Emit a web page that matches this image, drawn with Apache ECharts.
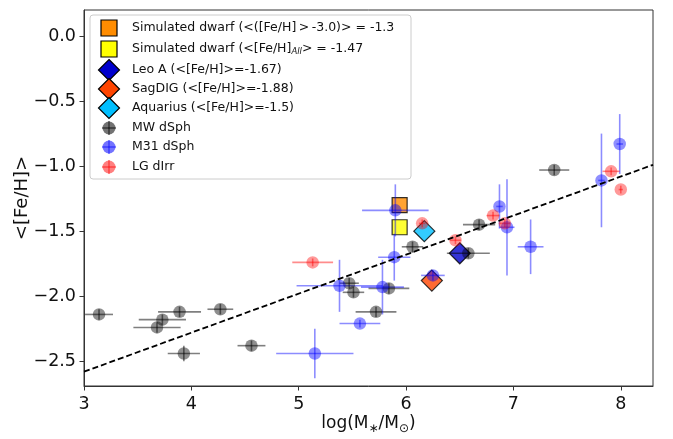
<!DOCTYPE html>
<html>
<head>
<meta charset="utf-8">
<script src="https://cdn.jsdelivr.net/npm/echarts@6/dist/echarts.min.js"></script>
<style>
  html, body { margin: 0; padding: 0; background: #ffffff; }
  #chart { width: 673px; height: 439px; }
</style>
</head>
<body>
<div id="chart"></div>
<script>
// Axis ticks
const xTicks = [3, 4, 5, 6, 7, 8];
const yTicks = [0.0, -0.5, -1.0, -1.5, -2.0, -2.5];

// Milky Way dwarf spheroidals: log stellar mass, mean [Fe/H], errors
const mwX    = [3.14, 3.68, 3.73, 3.89, 3.93, 4.27, 4.56, 5.47, 5.51, 5.72, 5.84, 6.06, 6.58, 6.68, 7.38];
const mwY    = [-2.14, -2.24, -2.18, -2.12, -2.44, -2.10, -2.38, -1.90, -1.97, -2.12, -1.94, -1.62, -1.67, -1.45, -1.03];
const mwXErr = [0.13, 0.22, 0.22, 0.20, 0.15, 0.12, 0.13, 0.09, 0.10, 0.19, 0.19, 0.10, 0.20, 0.15, 0.14];
const mwYErr = [0.04, 0.04, 0.04, 0.04, 0.06, 0.04, 0.04, 0.04, 0.04, 0.04, 0.04, 0.04, 0.04, 0.04, 0.04];

// M31 dwarf spheroidals
const m31X    = [5.15, 5.38, 5.57, 5.78, 5.89, 5.90, 6.25, 6.87, 6.94, 7.16, 7.82, 7.99];
const m31Y    = [-2.44, -1.92, -2.21, -1.93, -1.70, -1.34, -1.84, -1.31, -1.47, -1.62, -1.11, -0.83];
const m31XErr = [0.36, 0.40, 0.19, 0.20, 0.15, 0.31, 0.11, 0.03, 0.07, 0.12, 0.03, 0.03];
const m31YErr = [0.19, 0.20, 0.03, 0.21, 0.18, 0.20, 0.04, 0.17, 0.37, 0.21, 0.36, 0.23];

// Local Group dwarf irregulars
const lgX    = [5.13, 6.15, 6.46, 6.81, 6.92, 7.91, 8.00];
const lgY    = [-1.74, -1.44, -1.57, -1.38, -1.44, -1.04, -1.18];
const lgXErr = [0.19, 0.03, 0.05, 0.06, 0.05, 0.08, 0.02];
const lgYErr = [0.03, 0.03, 0.03, 0.03, 0.03, 0.03, 0.03];

// Individual objects
const simCut  = [5.94, -1.30];
const simAll  = [5.94, -1.47];
const leoA    = [6.50, -1.67];
const sagDIG  = [6.24, -1.88];
const aquarius = [6.17, -1.50];

// Mass-metallicity fit line end points
const fitX = [3.0, 8.3];
const fitY = [-2.58, -0.99];

const FONT = 'DejaVu Sans';
const MW_C  = 'rgba(0,0,0,0.55)';
const M31_C = 'rgba(0,0,255,0.55)';
const LG_C  = 'rgba(255,0,0,0.5)';
const MW_BAR  = 'rgba(0,0,0,0.5)';
const M31_BAR = 'rgba(0,0,255,0.45)';
const LG_BAR  = 'rgba(255,0,0,0.45)';

function errorBars(name, xs, ys, xe, ye, color) {
  return {
    type: 'custom',
    name: name,
    z: 2,
    silent: true,
    encode: { x: 0, y: 1 },
    data: xs.map((x, i) => [x, ys[i], xe[i], ye[i]]),
    renderItem: function (params, api) {
      const x = api.value(0), y = api.value(1), dx = api.value(2), dy = api.value(3);
      const l = api.coord([x - dx, y]), r = api.coord([x + dx, y]);
      const t = api.coord([x, y + dy]), b = api.coord([x, y - dy]);
      return {
        type: 'group',
        children: [
          { type: 'line', shape: { x1: l[0], y1: l[1], x2: r[0], y2: r[1] }, style: { stroke: color, lineWidth: 1.6 } },
          { type: 'line', shape: { x1: t[0], y1: t[1], x2: b[0], y2: b[1] }, style: { stroke: color, lineWidth: 1.6 } }
        ]
      };
    }
  };
}

function points(name, xs, ys, color) {
  return {
    type: 'scatter',
    name: name,
    z: 3,
    symbol: 'circle',
    symbolSize: 12.5,
    itemStyle: { color: color, borderWidth: 0 },
    data: xs.map((x, i) => [x, ys[i]])
  };
}

function marker(name, p, symbol, size, color) {
  return {
    type: 'scatter',
    name: name,
    z: 1,
    symbol: symbol,
    symbolSize: size,
    itemStyle: { color: color, borderColor: '#000', borderWidth: 1.2 },
    data: [p]
  };
}

// Legend, drawn as a framed box of swatches and labels
const legendRows = [28, 49, 70, 89, 108, 128, 147, 167];
const legendMarkX = 109, legendTextX = 132;
const legendChildren = [
  { type: 'rect', shape: { x: 90, y: 15, width: 321, height: 164, r: 3 },
    style: { fill: 'rgba(255,255,255,0.85)', stroke: '#cccccc', lineWidth: 1 } }
];
function sq(cy, color) {
  legendChildren.push({ type: 'rect', shape: { x: legendMarkX - 8, y: cy - 8, width: 16, height: 16 },
    style: { fill: color, stroke: '#000', lineWidth: 1.2 } });
}
function dia(cy, color) {
  const h = 10.5, c = legendMarkX;
  legendChildren.push({ type: 'polygon', shape: { points: [[c, cy - h], [c + h, cy], [c, cy + h], [c - h, cy]] },
    style: { fill: color, stroke: '#000', lineWidth: 1.2 } });
}
function circ(cy, color, bar) {
  const c = legendMarkX;
  legendChildren.push({ type: 'line', shape: { x1: c - 7, y1: cy, x2: c + 7, y2: cy }, style: { stroke: bar, lineWidth: 1.6 } });
  legendChildren.push({ type: 'line', shape: { x1: c, y1: cy - 7, x2: c, y2: cy + 7 }, style: { stroke: bar, lineWidth: 1.6 } });
  legendChildren.push({ type: 'circle', shape: { cx: c, cy: cy, r: 6.5 }, style: { fill: color } });
}
function label(cy, text) {
  legendChildren.push({ type: 'text', x: legendTextX, y: cy,
    style: { text: text, fontFamily: FONT, fontSize: 12.5, fill: '#111', verticalAlign: 'middle', align: 'left',
      rich: { sub: { fontFamily: FONT, fontSize: 8.5, fontStyle: 'italic', fill: '#111', verticalAlign: 'bottom', padding: [6, 0, 0, 0] } } } });
}
sq(legendRows[0], '#ff8c00');  label(legendRows[0], 'Simulated dwarf (<([Fe/H]\u2009>\u2009-3.0)> = -1.3');
sq(legendRows[1], '#ffff00');  label(legendRows[1], 'Simulated dwarf (<[Fe/H]{sub|All}> = -1.47');
dia(legendRows[2], '#0000cd'); label(legendRows[2], 'Leo A (<[Fe/H]>=-1.67)');
dia(legendRows[3], '#ff4500'); label(legendRows[3], 'SagDIG (<[Fe/H]>=-1.88)');
dia(legendRows[4], '#00bfff'); label(legendRows[4], 'Aquarius (<[Fe/H]>=-1.5)');
circ(legendRows[5], MW_C, MW_BAR);   label(legendRows[5], 'MW dSph');
circ(legendRows[6], M31_C, M31_BAR); label(legendRows[6], 'M31 dSph');
circ(legendRows[7], LG_C, LG_BAR);   label(legendRows[7], 'LG dIrr');

const fmtY = v => (Math.abs(v) < 1e-9 ? '0.0' : v.toFixed(1).replace('-', '\u2212'));

const chart = echarts.init(document.getElementById('chart'), null, { renderer: 'canvas' });
chart.setOption({
  animation: false,
  backgroundColor: '#ffffff',
  grid: { left: 84, right: 20, top: 10, bottom: 53, outerBoundsMode: 'none', containLabel: false,
    show: true, borderColor: '#333', borderWidth: 1, backgroundColor: 'transparent' },
  xAxis: {
    type: 'value', min: 3, max: 8.3,
    name: 'log(M{sub|\u2217}/M{sub|\u2299})',
    nameLocation: 'middle', nameGap: 27, nameMoveOverlap: false,
    nameTextStyle: { fontFamily: FONT, fontSize: 17, color: '#111', lineHeight: 22,
      rich: { sub: { fontFamily: FONT, fontSize: 12, color: '#111', lineHeight: 12, verticalAlign: 'bottom' } } },
    axisLine: { show: true, onZero: false, lineStyle: { color: '#333', width: 1 } },
    axisTick: { show: true, inside: false, length: 4.5, customValues: xTicks, lineStyle: { color: '#333' } },
    axisLabel: { customValues: xTicks, margin: 9, fontFamily: FONT, fontSize: 17.5, color: '#111', formatter: v => String(v) },
    splitLine: { show: false }
  },
  yAxis: {
    type: 'value', min: -2.69, max: 0.2,
    name: '<[Fe/H]>',
    nameLocation: 'middle', nameRotate: 90, nameGap: 53, nameMoveOverlap: false,
    nameTextStyle: { fontFamily: FONT, fontSize: 18, color: '#111' },
    axisLine: { show: true, onZero: false, lineStyle: { color: '#333', width: 1 } },
    axisTick: { show: true, inside: false, length: 4.5, customValues: yTicks, lineStyle: { color: '#333' } },
    axisLabel: { customValues: yTicks, margin: 8, fontFamily: FONT, fontSize: 17.5, color: '#111', formatter: fmtY },
    splitLine: { show: false }
  },
  graphic: [{ type: 'group', z: 100, children: legendChildren }],
  series: [
    marker('Simulated dwarf (<([Fe/H] > -3.0)> = -1.3', simCut, 'rect', 15, '#ff8c00'),
    marker('Simulated dwarf (<[Fe/H]All> = -1.47', simAll, 'rect', 15, '#ffff00'),
    marker('Leo A', leoA, 'diamond', 21, '#0000cd'),
    marker('SagDIG', sagDIG, 'diamond', 21, '#ff4500'),
    marker('Aquarius', aquarius, 'diamond', 21, '#00bfff'),
    errorBars('MW dSph errors', mwX, mwY, mwXErr, mwYErr, MW_BAR),
    points('MW dSph', mwX, mwY, MW_C),
    errorBars('M31 dSph errors', m31X, m31Y, m31XErr, m31YErr, M31_BAR),
    points('M31 dSph', m31X, m31Y, M31_C),
    errorBars('LG dIrr errors', lgX, lgY, lgXErr, lgYErr, LG_BAR),
    points('LG dIrr', lgX, lgY, LG_C),
    {
      type: 'line', name: 'fit', z: 4, silent: true, symbol: 'none',
      data: fitX.map((x, i) => [x, fitY[i]]),
      lineStyle: { color: '#000', width: 1.8, type: [6, 3] }
    }
  ]
});
</script>
</body>
</html>
